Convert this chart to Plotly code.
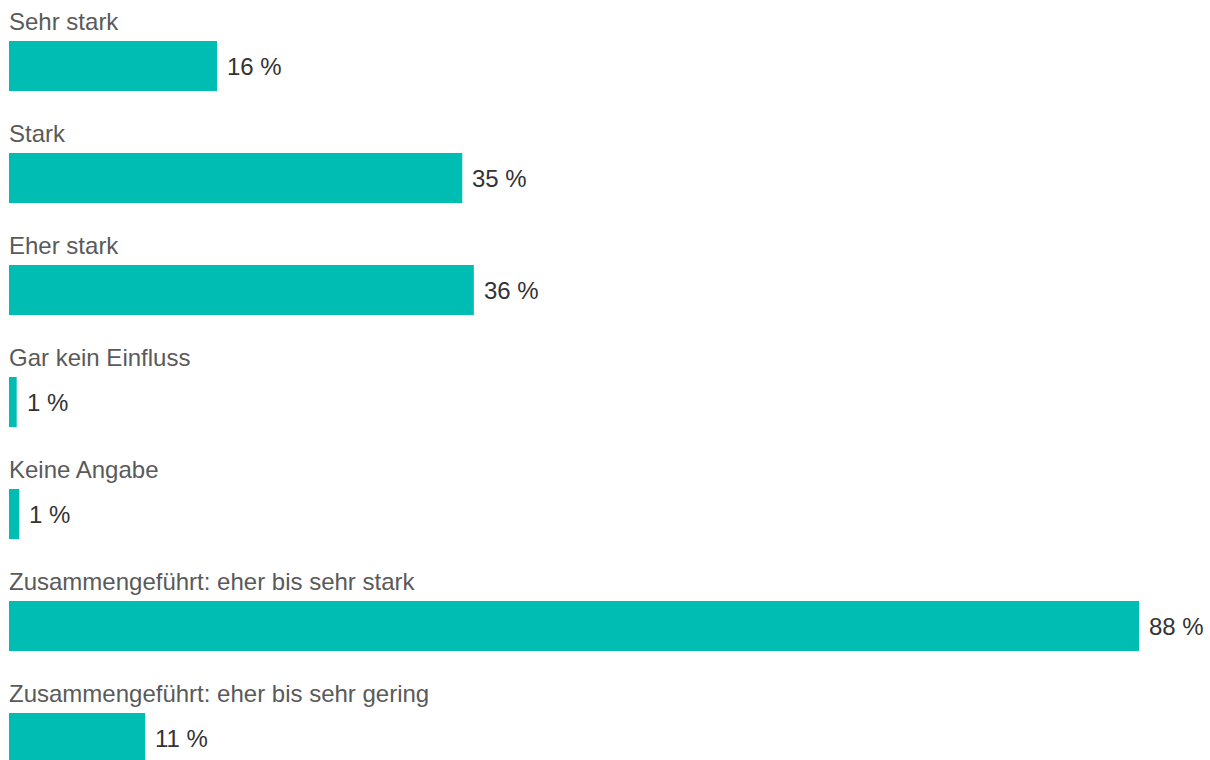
import plotly.graph_objects as go

categories = [
    "Sehr stark",
    "Stark",
    "Eher stark",
    "Gar kein Einfluss",
    "Keine Angabe",
    "Zusammengeführt: eher bis sehr stark",
    "Zusammengeführt: eher bis sehr gering",
]
values = [16.2, 35.3, 36.2, 0.6, 0.8, 88.0, 10.6]
value_labels = ["16 %", "35 %", "36 %", "1 %", "1 %", "88 %", "11 %"]

W, H = 1210, 760
pitch = 112.0
first_center = 66.0
bar_px = 50.0
x0_px = 9.0
px_per_unit = (1139.0 - x0_px) / 88.0

rows = list(range(len(categories)))
bar_color = "#00bdb3"
font_family = "Liberation Sans, Arial, sans-serif"

fig = go.Figure()
fig.add_trace(go.Bar(
    x=values, y=rows, orientation="h",
    marker=dict(color=bar_color, line=dict(width=0)),
    width=bar_px / pitch,
    hoverinfo="skip",
))

annotations = []
for i, (cat, v, lab) in enumerate(zip(categories, values, value_labels)):
    annotations.append(dict(
        x=0, y=i - (first_center - 21) / pitch, xref="x", yref="y",
        text=cat, showarrow=False, xanchor="left", yanchor="middle",
        xshift=-2,
        font=dict(family=font_family, size=24, color="#5a5a5a"),
    ))
    annotations.append(dict(
        x=v, y=i, xref="x", yref="y",
        text=lab, showarrow=False, xanchor="left", yanchor="middle",
        xshift=8,
        font=dict(family=font_family, size=24, color="#333333"),
    ))

fig.update_layout(
    width=W, height=H,
    margin=dict(l=0, r=0, t=0, b=0),
    paper_bgcolor="white", plot_bgcolor="white",
    showlegend=False,
    xaxis=dict(range=[-x0_px / px_per_unit, (W - x0_px) / px_per_unit],
               visible=False, fixedrange=True),
    yaxis=dict(range=[(H - first_center) / pitch, -first_center / pitch],
               visible=False, fixedrange=True),
    annotations=annotations,
)

fig.write_html("out.html")
